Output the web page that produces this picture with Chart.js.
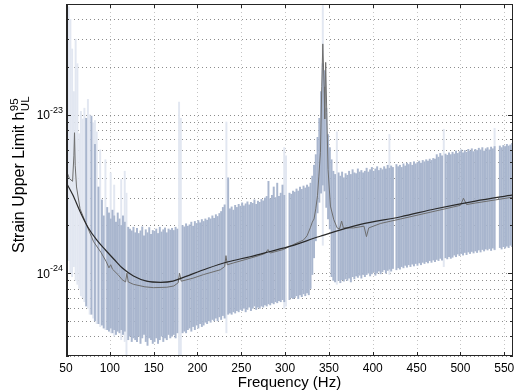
<!DOCTYPE html>
<html>
<head>
<meta charset="utf-8">
<script src="https://cdn.jsdelivr.net/npm/chart.js@4.4.1/dist/chart.umd.min.js"></script>
<style>
  html, body { margin: 0; padding: 0; background: #fff; }
  canvas { display: block; }
</style>
</head>
<body>
<canvas id="ulChart" width="517" height="392" style="width:517px;height:392px"></canvas>
<script>
// values are in units of 1e-24 strain
var UNIT = 1e-24;

// 2 Hz frequency bins, first bin centred on 51 Hz
var binStart = 51, binStep = 2;

// upper end of each bin's range (null = no bar)
var binHigh = [
  null, null, null, null, null, null, null, null, null, null,       // 51-69
  null, 9.5, null, null, 9.8, null, 6.5, null, 3.5, null,           // 71-89
  2.9, 2.3, null, 2.6, 2.4, 2.2, 2.5, 2.3, 2.1, 2.4,                // 91-109
  2.2, 2.0, 2.3, 2.1, null, 1.95, 1.9, 1.85, 1.95, 1.8,             // 111-129
  1.92, 1.78, 1.85, 1.96, 1.72, 1.88, 1.8, 1.94, 1.76, 1.86,        // 131-149
  1.84, 1.9, 1.78, 1.95, 1.82, 1.88, 1.93, 1.8, 1.9, 1.87,          // 151-169
  1.92, 1.86, 1.95, 1.9, null, null, 2.0, 1.96, 2.05, 1.98,         // 171-189
  2.02, 2.1, 1.98, 2.12, 2.06, 2.15, 2.08, 2.18, 2.12, 2.2,         // 191-209
  2.16, 2.24, 2.2, 2.3, 2.22, 2.34, 2.28, 2.38, 2.45, 2.6,          // 211-229
  2.7, null, 4.0, 2.55, 2.62, 2.5, 2.68, 2.6, 2.72, 2.65,           // 231-249
  2.78, 2.66, 2.74, 2.82, 2.7, 2.8, 2.76, 2.9, 2.72, 2.85,          // 251-269
  2.8, 2.92, 2.86, 2.98, 3.05, 3.8, 2.95, 3.1, 3.5, 3.0,            // 271-289
  3.7, 3.05, 3.2, 3.6, 3.1, null, null, 3.2, 3.15, 3.3,             // 291-309
  3.25, 3.4, 3.3, 3.5, 3.38, 3.55, 3.45, 3.6, 3.5, 3.7,             // 311-329
  4.1, 4.8, 5.6, 7.2, 9.5, 14, 21, 19, 11, 7.5,                     // 331-349
  6.2, 5.2, 4.4, 4.2, null, 4.3, 4.1, 4.35, 4.0, 4.25,              // 351-369
  4.15, 4.4, 4.2, 4.5, 4.3, 4.25, 4.55, 4.35, 4.45, 4.3,            // 371-389
  4.4, 4.6, 4.35, 4.5, 4.65, 4.4, 4.55, 4.7, 4.45, 4.6,             // 391-409
  4.5, 4.7, 4.55, 4.8, 4.6, 4.75, 4.65, null, 4.85, 4.7,            // 411-429
  4.8, 4.65, 4.9, 4.75, 4.95, 4.85, 5.0, 4.8, 5.05, 4.9,            // 431-449
  5.0, 5.1, 4.95, 5.15, 5.05, 5.2, 5.1, 5.25, 5.15, 5.3,            // 451-469
  5.25, 5.6, 5.4, 5.7, 5.5, null, 5.65, 5.55, 5.75, 5.6,            // 471-489
  5.8, 5.65, 5.9, 5.7, 5.85, 6.0, 5.75, 5.95, 5.8, 6.05,            // 491-509
  5.9, 6.1, 5.85, 6.05, 5.95, 6.15, 6.0, 6.2, 5.9, 6.1,             // 511-529
  6.2, 6.0, 6.25, 6.1, 6.3, null, null, 6.35, 6.2, 6.4,             // 531-549
  6.3, 6.5, 6.35, 6.45, 6.6                                         // 551-559
];

// lower end of each bin's range
var binLow = [
  null, null, null, null, null, null, null, null, null, null,
  null, 0.62, null, null, 0.55, null, 0.5, null, 0.48, null,
  0.47, 0.45, null, 0.44, 0.43, 0.45, 0.42, 0.44, 0.41, 0.43,
  0.42, 0.44, 0.41, 0.43, null, 0.38, 0.40, 0.37, 0.39, 0.38,
  0.37, 0.40, 0.36, 0.39, 0.41, 0.37, 0.35, 0.39, 0.38, 0.36,
  0.37, 0.39, 0.36, 0.38, 0.40, 0.37, 0.39, 0.38, 0.41, 0.39,
  0.40, 0.41, 0.39, 0.42, null, null, 0.42, 0.43, 0.42, 0.44,
  0.45, 0.43, 0.46, 0.44, 0.47, 0.45, 0.48, 0.46, 0.47, 0.49,
  0.48, 0.50, 0.49, 0.51, 0.50, 0.52, 0.50, 0.53, 0.51, 0.54,
  0.52, null, 0.55, 0.56, 0.55, 0.57, 0.56, 0.58, 0.57, 0.59,
  0.58, 0.60, 0.57, 0.59, 0.61, 0.58, 0.60, 0.62, 0.59, 0.61,
  0.60, 0.62, 0.61, 0.63, 0.62, 0.64, 0.63, 0.65, 0.64, 0.66,
  0.65, 0.67, 0.66, 0.68, 0.66, null, null, 0.68, 0.70, 0.69,
  0.70, 0.72, 0.69, 0.73, 0.71, 0.74, 0.72, 0.75, 0.73, 0.80,
  0.98, 1.25, 1.6, 2.4, 2.8, 3.2, 3.6, 3.3, 2.6, 2.2,
  1.9, 0.95, 0.90, 0.88, null, 0.90, 0.87, 0.91, 0.89, 0.92,
  0.90, 0.93, 0.88, 0.95, 0.92, 0.96, 0.94, 0.97, 0.93, 0.98,
  0.95, 0.98, 1.0, 0.96, 0.99, 1.02, 0.97, 1.0, 1.03, 0.99,
  1.02, 1.05, 1.0, 1.04, 1.06, 1.03, 1.07, null, 1.05, 1.08,
  1.06, 1.1, 1.08, 1.12, 1.09, 1.13, 1.1, 1.14, 1.11, 1.15,
  1.12, 1.16, 1.13, 1.17, 1.15, 1.18, 1.16, 1.2, 1.17, 1.21,
  1.18, 1.22, 1.2, 1.24, 1.21, null, 1.25, 1.23, 1.27, 1.24,
  1.26, 1.3, 1.27, 1.32, 1.29, 1.33, 1.3, 1.35, 1.31, 1.36,
  1.33, 1.37, 1.34, 1.38, 1.35, 1.4, 1.36, 1.41, 1.38, 1.42,
  1.4, 1.43, 1.39, 1.44, 1.41, null, null, 1.45, 1.42, 1.47,
  1.44, 1.48, 1.45, 1.5, 1.47
];

// faint (vetoed) bins
var faintFreq = [51, 53, 55, 57, 59, 61, 63, 65, 67, 69, 71, 75, 77, 81, 83, 85, 89, 95, 101, 105, 113, 117, 119,
                 179, 181, 233, 299, 301, 343, 359, 419, 481, 539];
var faintHigh = [52, 48, 40, 26, 14, 30, 21, 7.6, 10.5, 9.4, 11, 12.5, 10, 8.9, 9.2, 7.8, 6.0, 5.2, 4.3, 3.6, 3.9, 4.4, 3.2,
                 12, 9.5, 9.0, 6.2, 5.5, 60, 7.8, 7.5, 8.1, 8.2];
var faintLow = [1.6, 1.2, 1.0, 0.95, 1.1, 0.9, 0.85, 0.8, 0.72, 0.7, 0.66, 0.6, 0.55, 0.52, 0.5, 0.48, 0.46, 0.44, 0.42, 0.4, 0.38, 0.37, 0.3,
                0.28, 0.3, 0.42, 0.6, 0.62, 1.5, 0.85, 0.98, 1.1, 1.4];

// expected sensitivity curve
var sensFreq = [50, 58, 66, 75, 85, 95, 105, 115, 127, 142, 158, 172, 184, 211, 235, 260, 283, 306, 340, 386, 432, 472, 517, 560];
var sensVal = [3.75, 3.1, 2.45, 1.95, 1.62, 1.4, 1.22, 1.07, 0.96, 0.89, 0.875, 0.89, 0.94, 1.07, 1.18, 1.27, 1.37, 1.48, 1.71, 2.03, 2.27, 2.55, 2.85, 3.12];

// measured noise curve
var noiseFreq = [50, 54, 57.5, 59, 59.7, 60.5, 62, 66, 75, 81.5, 90, 96, 99, 101, 103, 110, 114, 118, 119.5, 121, 127, 140, 150, 165,
                 173, 178, 179.5, 181.5, 195, 207, 226, 231, 232.5, 234, 241, 255, 268, 277, 280.5, 283, 298, 310, 321, 325,
                 329, 331, 333, 335, 337, 338.5, 340.3, 341.8, 343, 344.5, 345.2, 346.3, 347.5, 349, 351.7, 355.5, 359.4, 362,
                 364.5, 366.5, 378, 390, 392.8, 395.4, 409, 432, 472, 500, 503.5, 507, 517, 540, 560];
var noiseVal = [4.5, 3.95, 3.8, 5.5, 7.7, 4.8, 3.5, 2.55, 1.92, 1.58, 1.35, 1.18, 1.08, 1.13, 1.06, 0.97, 0.91, 0.88, 1.0, 0.88, 0.85, 0.82, 0.81, 0.815,
                0.83, 0.87, 1.0, 0.89, 0.93, 0.98, 1.05, 1.1, 1.29, 1.13, 1.16, 1.22, 1.28, 1.33, 1.41, 1.34, 1.41, 1.52, 1.62, 1.72,
                1.95, 2.1, 2.2, 2.55, 3.1, 4.1, 5.8, 15, 28, 15, 9.4, 21.4, 10.3, 4.5, 2.65, 2.18, 1.93, 1.9,
                2.13, 1.93, 1.93, 1.98, 1.7, 1.93, 2.06, 2.2, 2.47, 2.68, 2.97, 2.71, 2.77, 2.9, 3.02];

var xTicks = [50, 100, 150, 200, 250, 300, 350, 400, 450, 500, 550];
var yLabelExp = [-24, -23];

var binBars = [];
binHigh.forEach(function (h, i) {
    if (h === null) return;
    binBars.push({ x: binStart + i * binStep, y: [binLow[i] * UNIT, h * UNIT] });
});
var faintBars = faintFreq.map(function (f, i) {
    return { x: f, y: [faintLow[i] * UNIT, faintHigh[i] * UNIT] };
});
var sensPts = sensFreq.map(function (f, i) { return { x: f, y: sensVal[i] * UNIT }; });
var noisePts = noiseFreq.map(function (f, i) { return { x: f, y: noiseVal[i] * UNIT }; });

var FONT = '"Liberation Sans", Arial, Helvetica, sans-serif';

/* grille pointillée, cadre, graduations et textes */
var decor = {
    id: 'decor',
    beforeDatasetsDraw: function (chart) {
        var ctx = chart.ctx, a = chart.chartArea;
        var xs = chart.scales.x, ys = chart.scales.y;
        ctx.save();
        ctx.lineWidth = 1;
        ctx.setLineDash([1, 3]);
        ctx.strokeStyle = '#c4c4c4';
        xTicks.forEach(function (t) {
            if (t <= 50) return;
            var px = Math.round(xs.getPixelForValue(t)) + 0.5;
            ctx.beginPath(); ctx.moveTo(px, a.top); ctx.lineTo(px, a.bottom); ctx.stroke();
        });
        ctx.strokeStyle = '#8c8c8c';
        for (var e = -25; e <= -23; e++) {
            for (var m = 1; m <= 9; m++) {
                var v = m * Math.pow(10, e);
                if (v < ys.min || v > ys.max) continue;
                var py = Math.round(ys.getPixelForValue(v)) + 0.5;
                ctx.beginPath(); ctx.moveTo(a.left, py); ctx.lineTo(a.right, py); ctx.stroke();
            }
        }
        ctx.restore();
    },
    afterDatasetsDraw: function (chart) {
        var ctx = chart.ctx, a = chart.chartArea;
        var xs = chart.scales.x, ys = chart.scales.y;
        ctx.save();
        ctx.strokeStyle = '#262626';
        ctx.lineWidth = 1;
        ctx.strokeRect(a.left + 0.5, a.top + 0.5, a.right - a.left - 1, a.bottom - a.top - 1);
        ctx.lineWidth = 2;
        ctx.beginPath(); ctx.moveTo(a.left + 1, a.top); ctx.lineTo(a.left + 1, a.bottom); ctx.stroke();
        ctx.lineWidth = 1;
        xTicks.forEach(function (t) {
            var px = Math.round(xs.getPixelForValue(t)) + 0.5;
            ctx.beginPath();
            ctx.moveTo(px, a.bottom); ctx.lineTo(px, a.bottom - 4);
            ctx.moveTo(px, a.top); ctx.lineTo(px, a.top + 4);
            ctx.stroke();
        });
        for (var e = -25; e <= -23; e++) {
            for (var m = 1; m <= 9; m++) {
                var v = m * Math.pow(10, e);
                if (v < ys.min || v > ys.max) continue;
                var py = Math.round(ys.getPixelForValue(v)) + 0.5;
                var len = m === 1 ? 5 : 3;
                ctx.beginPath();
                ctx.moveTo(a.left, py); ctx.lineTo(a.left + len, py);
                ctx.moveTo(a.right, py); ctx.lineTo(a.right - len, py);
                ctx.stroke();
            }
        }
        ctx.restore();
    },
    afterDraw: function (chart) {
        var ctx = chart.ctx, a = chart.chartArea;
        var xs = chart.scales.x, ys = chart.scales.y;
        ctx.save();
        ctx.fillStyle = '#000';
        ctx.textBaseline = 'alphabetic';

        // x tick labels
        ctx.font = '12px ' + FONT;
        ctx.textAlign = 'center';
        xTicks.forEach(function (t) {
            ctx.fillText(String(t), xs.getPixelForValue(t), 372);
        });

        // y tick labels 10^n
        yLabelExp.forEach(function (n) {
            var py = ys.getPixelForValue(Math.pow(10, n));
            ctx.font = '9px ' + FONT;
            ctx.textAlign = 'right';
            ctx.fillText(String(n), 63, py - 2);
            var w = ctx.measureText(String(n)).width;
            ctx.font = '12px ' + FONT;
            ctx.fillText('10', 63 - w, py + 4.5);
        });

        // x title
        ctx.font = '15px ' + FONT;
        ctx.textAlign = 'center';
        ctx.fillText('Frequency (Hz)', (a.left + a.right) / 2, 387);

        // y title with h^95_UL
        var main = 'Strain Upper Limit h';
        ctx.translate(23.5, 175);
        ctx.rotate(-Math.PI / 2);
        ctx.font = '16px ' + FONT;
        var wMain = ctx.measureText(main).width;
        ctx.font = '11.5px ' + FONT;
        var wSup = ctx.measureText('95').width;
        var wSub = ctx.measureText('UL').width;
        var x0 = -(wMain + Math.max(wSup, wSub)) / 2;
        ctx.textAlign = 'left';
        ctx.font = '16px ' + FONT;
        ctx.fillText(main, x0, 0);
        ctx.font = '11.5px ' + FONT;
        ctx.fillText('95', x0 + wMain + 0.5, -5.5);
        ctx.fillText('UL', x0 + wMain + 0.5, 5);
        ctx.restore();
    }
};

var ctxU = document.getElementById('ulChart');
var ulChart = new Chart(ctxU, {
    type: 'bar',
    data: {
        datasets: [{
            type: 'line',
            data: sensPts,
            borderColor: '#2a2a2a',
            borderWidth: 1.2,
            pointRadius: 0,
            cubicInterpolationMode: 'monotone',
            order: 0
        }, {
            type: 'line',
            data: noisePts,
            borderColor: '#6e6e6e',
            borderWidth: 1,
            pointRadius: 0,
            tension: 0,
            order: 1
        }, {
            data: binBars,
            backgroundColor: '#a9b6ce',
            barThickness: 1.3,
            grouped: false,
            order: 2
        }, {
            data: faintBars,
            backgroundColor: '#e2e7f1',
            barThickness: 1.3,
            grouped: false,
            order: 3
        }]
    },
    options: {
        responsive: false,
        animation: false,
        layout: { padding: { top: 4, right: 4, left: 0, bottom: 0 } },
        plugins: { legend: { display: false }, tooltip: { enabled: false } },
        scales: {
            x: {
                type: 'linear', min: 50, max: 560, offset: false,
                grid: { display: false }, border: { display: false },
                ticks: { display: false },
                afterFit: function (s) { s.height = 36; }
            },
            y: {
                type: 'logarithmic', min: 3e-25, max: 5e-23,
                grid: { display: false }, border: { display: false },
                ticks: { display: false },
                afterFit: function (s) { s.width = 66; }
            }
        }
    },
    plugins: [decor]
});
</script>
</body>
</html>
